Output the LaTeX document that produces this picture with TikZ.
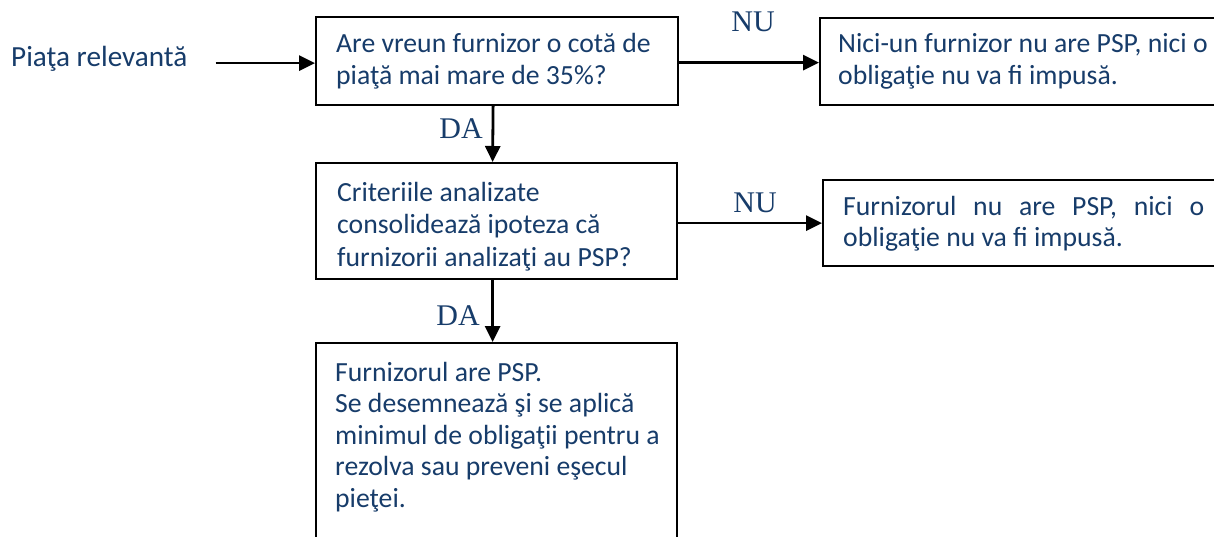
\documentclass[tikz,border=0pt]{standalone}
\usepackage{fontspec}
\setmainfont{Carlito}
\newfontfamily\lblfont{Liberation Serif}
\usetikzlibrary{arrows.meta}
\definecolor{txtblue}{HTML}{173C6A}
\begin{document}
\begin{tikzpicture}[x=1pt,y=-1pt,
  box/.style={draw=black, line width=2.2pt, fill=white, inner sep=0pt, anchor=north west},
  txt/.style={text=txtblue, font=\fontsize{27.7}{32.5}\selectfont, align=left, inner sep=0pt, anchor=north west, execute at begin node={\hyphenpenalty=10000\strut}},
  txtb/.style={txt, font=\fontsize{27.7}{31.5}\selectfont},
  lbl/.style={text=txtblue, font=\lblfont\fontsize{30}{30}\selectfont, inner sep=0pt, anchor=base},
  arr/.style={line width=2.8pt, -{Triangle[length=16pt,width=15pt]}}]
\path[use as bounding box, clip] (0,0) rectangle (1214,537);
\fill[white] (0,0) rectangle (1214,537);

% boxes
\node[box, minimum width=362, minimum height=88] (q1) at (315,16) {};
\node[box, minimum width=420, minimum height=87] (r1) at (819,17) {};
\node[box, minimum width=361, minimum height=116] (q2) at (315,162) {};
\node[box, minimum width=420, minimum height=86] (r2) at (822,179) {};
\node[box, minimum width=361, minimum height=250] (q3) at (315,342) {};

% texts
\node[txt, anchor=base west, font=\fontsize{29.2}{31.5}\selectfont] (p) at (11,67) {Piaţa relevantă};
\node[txt] (q1t) at (336,33) {Are vreun furnizor o cotă de\\piaţă mai mare de 35\%?};
\node[txt] (r1t) at (838,33) {Nici-un furnizor nu are PSP, nici o\\obligaţie nu va fi impusă.};
\node[txt] (q2t) at (337,182) {Criteriile analizate\\consolidează ipoteza că\\furnizorii analizaţi au PSP?};
\node[txtb, text width=361, align=justify] (r2t) at (843,193) {Furnizorul nu are PSP, nici o\linebreak obligaţie nu va fi impusă.};
\node[txtb] (q3t) at (335,362) {Furnizorul are PSP.\\Se desemnează şi se aplică\\minimul de obligaţii pentru a\\rezolva sau preveni eşecul\\pieţei.};

% connectors
\draw[arr, shorten <=28pt] ([yshift=-2pt]p.east |- q1.west) -- ([yshift=-2pt]q1.west);
\draw[arr] ([yshift=-1.5pt]q1.east) -- ([yshift=-1.5pt]q1.east -| r1.west);
\draw[arr] ([xshift=-4pt]q1.south) -- ([xshift=-4pt]q2.north);
\draw[arr] ([yshift=-2pt]q2.east) -- ([yshift=-2pt]q2.east -| r2.west);
\draw[arr] ([xshift=-4pt]q2.south) -- ([xshift=-4pt]q3.north);

% labels
\node[lbl] (nu1) at (753,32) {NU};
\node[lbl] (da1) at (461,139) {DA};
\node[lbl] (nu2) at (755,213) {NU};
\node[lbl] (da2) at (458,325) {DA};
\end{tikzpicture}
\end{document}
